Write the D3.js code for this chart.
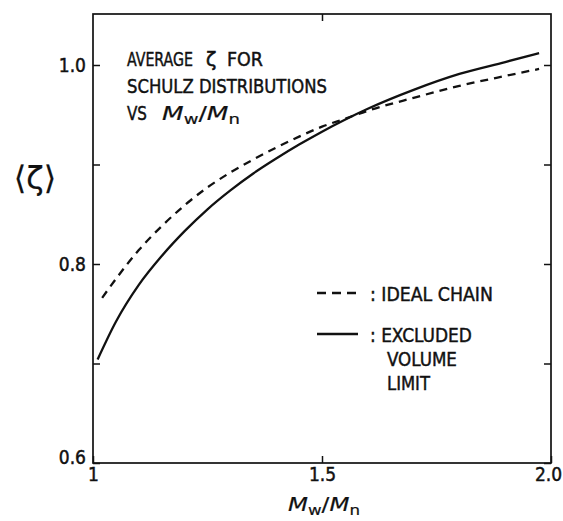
<!DOCTYPE html>
<html>
<head>
<meta charset="utf-8">
<script src="https://cdn.jsdelivr.net/npm/d3@7"></script>
<style>
  body { margin: 0; background: #fff; }
  text { font-family: "DejaVu Sans Condensed", "Liberation Sans Narrow", sans-serif; fill: #111; stroke: #111; stroke-width: 0.45; }
</style>
</head>
<body>
<script>
// values
const xTicks = [1, 1.5, 2.0],
      xTickLabels = ["1", "1.5", "2.0"];
const yTicks = [0.6, 0.7, 0.8, 0.9, 1.0],
      yTickLabels = ["0.6", "", "0.8", "", "1.0"];

// excluded volume limit (solid)
const excludedX = [1.01, 1.05, 1.10, 1.15, 1.20, 1.25, 1.30, 1.35, 1.40, 1.45, 1.50, 1.55, 1.60, 1.70, 1.80, 1.90, 1.974];
const excludedY = [0.704, 0.742, 0.779, 0.808, 0.833, 0.855, 0.874, 0.891, 0.906, 0.920, 0.933, 0.945, 0.956, 0.975, 0.991, 1.003, 1.012];
// ideal chain (dashed)
const idealX = [1.02, 1.05, 1.10, 1.15, 1.20, 1.25, 1.30, 1.35, 1.40, 1.45, 1.50, 1.55, 1.60, 1.70, 1.80, 1.90, 1.974];
const idealY = [0.766, 0.785, 0.814, 0.838, 0.859, 0.877, 0.892, 0.905, 0.917, 0.928, 0.938, 0.946, 0.954, 0.967, 0.979, 0.989, 0.996];

const width = 563, height = 521;
const mLeft = 93, mRight = 551, mTop = 14, mBottom = 463;

const svg = d3.select("body").append("svg").attr("width", width).attr("height", height);

let x = d3.scaleLinear().domain([1, 2]).range([mLeft, mRight]);
let y = d3.scaleLinear().domain([0.6, 1.0]).range([mBottom, 65]);

// frame
svg.append("rect").attr("x", mLeft).attr("y", mTop).attr("width", mRight - mLeft).attr("height", mBottom - mTop)
   .attr("fill", "none").attr("stroke", "#111").attr("stroke-width", 1.7);

function styleAxis(g) {
    g.select(".domain").remove();
    g.selectAll(".tick line").attr("stroke", "#111").attr("stroke-width", 1.5);
    g.selectAll(".tick text").attr("font-size", 19).attr("fill", "#111")
     .attr("font-family", null);
}

let yAxis = svg.append("g").attr("transform", `translate(${mLeft},0)`)
    .call(d3.axisLeft(y).tickValues(yTicks).tickSize(-7).tickPadding(7)
        .tickFormat((d, i) => yTickLabels[i]))
    .call(styleAxis);
yAxis.selectAll(".tick text").filter(d => d === 0.6).attr("dy", "0.05em");

svg.append("g").attr("transform", `translate(${mRight},0)`)
    .call(d3.axisRight(y).tickValues(yTicks).tickSize(-7).tickFormat(""))
    .call(styleAxis);

let xAxis = svg.append("g").attr("transform", `translate(0,${mBottom})`)
    .call(d3.axisBottom(x).tickValues(xTicks).tickSize(-7).tickPadding(5)
        .tickFormat((d, i) => xTickLabels[i]))
    .call(styleAxis);
xAxis.selectAll(".tick text").filter(d => d === 2).attr("dx", -3);

svg.append("g").attr("transform", `translate(0,${mTop})`)
    .call(d3.axisTop(x).tickValues([1.5]).tickSize(-7).tickFormat(""))
    .call(styleAxis);

// curves
const line = d3.line().x(d => x(d[0])).y(d => y(d[1])).curve(d3.curveMonotoneX);
svg.append("path").datum(d3.zip(excludedX, excludedY)).attr("d", line)
   .attr("fill", "none").attr("stroke", "#111").attr("stroke-width", 2.3);
svg.append("path").datum(d3.zip(idealX, idealY)).attr("d", line)
   .attr("fill", "none").attr("stroke", "#111").attr("stroke-width", 2.3).attr("stroke-dasharray", "8,6");

// squeeze a text horizontally so it spans len pixels (narrow lettering of the original)
function fit(t, xPos, yPos, len) {
    const natural = t.node().getComputedTextLength();
    t.attr("transform", `translate(${xPos},${yPos}) scale(${len / natural},1)`);
    return t;
}

// axis titles
svg.append("text").attr("x", 35).attr("y", 189).attr("text-anchor", "middle")
   .attr("font-size", 32).style("stroke-width", 0.2).style("font-family", "DejaVu Sans, sans-serif").text("⟨ζ⟩");

function ratio(xPos, yPos, size, len) {
    let t = svg.append("text").attr("font-size", size).style("stroke-width", 0.2);
    t.append("tspan").attr("font-style", "italic").text("M");
    t.append("tspan").attr("font-size", size * 0.72).attr("dy", 4).text("w");
    t.append("tspan").attr("dy", -4).text("/");
    t.append("tspan").attr("font-style", "italic").text("M");
    t.append("tspan").attr("font-size", size * 0.72).attr("dy", 4).text("n");
    return fit(t, xPos, yPos, len);
}
ratio(288, 511, 20, 72);

// title block
function word(s, xPos, yPos, len) {
    return fit(svg.append("text").attr("font-size", 20).text(s), xPos, yPos, len);
}
word("AVERAGE", 127, 66, 66);
svg.append("text").attr("x", 206).attr("y", 66).attr("font-size", 19)
   .style("font-family", "DejaVu Sans, sans-serif").style("stroke-width", 0.6).text("ζ");
word("FOR", 227, 66, 36);
word("SCHULZ DISTRIBUTIONS", 127, 93, 200);
word("VS", 127, 120, 20);
ratio(162, 120, 20, 78);

// legend
const legendItems = [
    { dash: "9,6", lines: [": IDEAL CHAIN"], lens: [123] },
    { dash: null, lines: [": EXCLUDED", "VOLUME", "LIMIT"], lens: [102, 70, 43] }
];
const legendY = [293, 334];
legendItems.forEach((item, i) => {
    svg.append("line").attr("x1", 317).attr("x2", 358).attr("y1", legendY[i]).attr("y2", legendY[i])
       .attr("stroke", "#111").attr("stroke-width", 2.3).attr("stroke-dasharray", item.dash);
    item.lines.forEach((s, j) => {
        word(s, j === 0 ? 370 : 387, legendY[i] + 7.5 + j * 24, item.lens[j]);
    });
});
</script>
</body>
</html>
